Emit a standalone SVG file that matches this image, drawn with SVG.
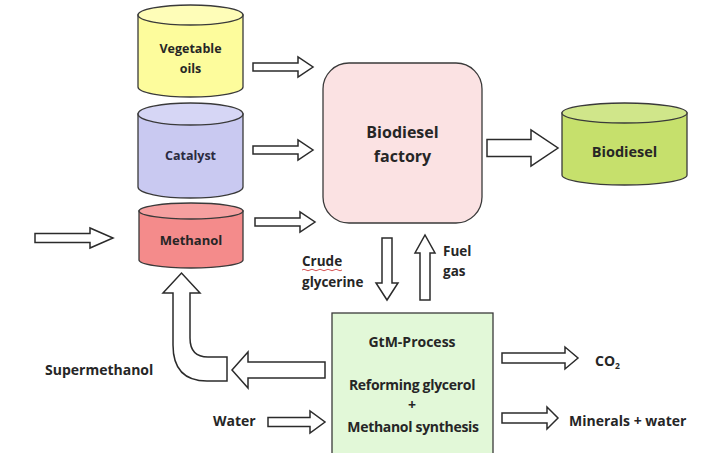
<svg xmlns="http://www.w3.org/2000/svg" width="720" height="453" viewBox="0 0 720 453">
<style>
.cyl{stroke:#3a3a3a;stroke-width:1.3}
.arr{fill:#fff;stroke:#2b2b2b;stroke-width:1.5;stroke-linejoin:miter}
.t{font-family:"Open Sans","Liberation Sans",sans-serif;font-weight:700;fill:#262626}
.s{font-size:12.5px}
.c{text-anchor:middle}
</style>
<rect width="720" height="453" fill="#fff"/>
<g id="vegetable-oils">
<path class="cyl" fill="#fdfc9c" d="M138 15 L138 87 A52.5 10 0 0 0 243 87 L243 15 Z"/>
<ellipse class="cyl" fill="#fefdb8" cx="190.5" cy="15" rx="52.5" ry="10"/>
<text class="t s c" x="190.5" y="53">Vegetable</text>
<text class="t s c" x="190.5" y="73">oils</text>
</g>
<g id="catalyst">
<path class="cyl" fill="#c9c9f1" d="M138 114 L138 187 A52.5 11 0 0 0 243 187 L243 114 Z"/>
<ellipse class="cyl" fill="#d6d6f5" cx="190.5" cy="114" rx="52.5" ry="11"/>
<text class="t s c" x="190.5" y="160" style="fill:#2a2a40">Catalyst</text>
</g>
<g id="methanol">
<path class="cyl" fill="#f48b8b" d="M139 211 L139 260 A52 8 0 0 0 243 260 L243 211 Z"/>
<ellipse class="cyl" fill="#f6a0a0" cx="191" cy="211" rx="52" ry="8"/>
<text class="t c" x="191" y="245" font-size="13">Methanol</text>
</g>
<g id="biodiesel-factory">
<rect x="323" y="63" width="159" height="160" rx="26" fill="#fbe2e3" stroke="#3a3a3a" stroke-width="1.3"/>
<text class="t c" x="402.5" y="138" font-size="16">Biodiesel</text>
<text class="t c" x="402.5" y="162" font-size="16">factory</text>
</g>
<g id="biodiesel">
<path class="cyl" fill="#c6e06c" d="M562 113 L562 175 A62.5 10 0 0 0 687 175 L687 113 Z"/>
<ellipse class="cyl" fill="#d0e68a" cx="624.5" cy="113" rx="62.5" ry="10"/>
<text class="t c" x="624.5" y="157" font-size="14.5">Biodiesel</text>
</g>
<g id="gtm-process">
<rect x="332" y="313" width="161" height="150" fill="#e2f8d8" stroke="#3a3a3a" stroke-width="1.3"/>
<text class="t c" x="412" y="347" font-size="14">GtM-Process</text>
<text class="t c" x="412" y="390" font-size="14" letter-spacing="-0.3">Reforming glycerol</text>
<text class="t c" x="412" y="410" font-size="14">+</text>
<text class="t c" x="413" y="432" font-size="14" letter-spacing="-0.3">Methanol synthesis</text>
</g>
<g id="connectors">
<path class="arr" d="M253 63 L298 63 L298 57 L313 67 L298 77 L298 71 L253 71 Z"/>
<path class="arr" d="M253 146 L298 146 L298 140 L313 150 L298 160 L298 154 L253 154 Z"/>
<path class="arr" d="M255 218 L300 218 L300 212 L315 222 L300 232 L300 226 L255 226 Z"/>
<path class="arr" d="M35 233.5 L90 233.5 L90 228 L113 238 L90 248 L90 242.5 L35 242.5 Z"/>
<path class="arr" d="M487 139.5 L531 139.5 L531 130 L558 148 L531 166 L531 156.5 L487 156.5 Z"/>
<path class="arr" d="M382 238 L392 238 L392 283 L398 283 L387 300 L376 283 L382 283 Z"/>
<path class="arr" d="M420 300 L430 300 L430 253 L435 253 L425 235 L415 253 L420 253 Z"/>
<path class="arr" d="M502 353 L565 353 L565 347 L578 358 L565 369 L565 363 L502 363 Z"/>
<path class="arr" d="M502 413 L547 413 L547 407 L558 418 L547 429 L547 423 L502 423 Z"/>
<path class="arr" d="M268 417.5 L310 417.5 L310 411 L325 422 L310 433 L310 426.5 L268 426.5 Z"/>
<path class="arr" d="M325 362 L248 362 L248 352 L232 370 L248 388 L248 378 L325 378 Z"/>
<path class="arr" d="M227 357 L227 381 L207 381 Q173 381 173 345 L173 293 L163 293 L181.5 273 L200 293 L190 293 L190 338 Q190 357 208 357 Z"/>
</g>
<g id="labels">
<text class="t" x="302" y="266" font-size="13.5">Crude</text>
<path d="M302 270 q2 -1.5 4 0 t4 0 t4 0 t4 0 t4 0 t4 0 t4 0 t4 0 t4 0 t4 0" fill="none" stroke="#d04040" stroke-width="0.9"/>
<text class="t" x="302" y="287" font-size="13.5">glycerine</text>
<text class="t" x="443" y="256" font-size="13.5">Fuel</text>
<text class="t" x="443" y="276" font-size="13.5">gas</text>
<text class="t" x="45" y="375" font-size="14">Supermethanol</text>
<text class="t" x="213" y="426" font-size="14">Water</text>
<text class="t" x="595" y="366" font-size="14">CO<tspan font-size="8.5" dy="3">2</tspan></text>
<text class="t" x="569" y="426" font-size="14">Minerals + water</text>
</g>
</svg>
